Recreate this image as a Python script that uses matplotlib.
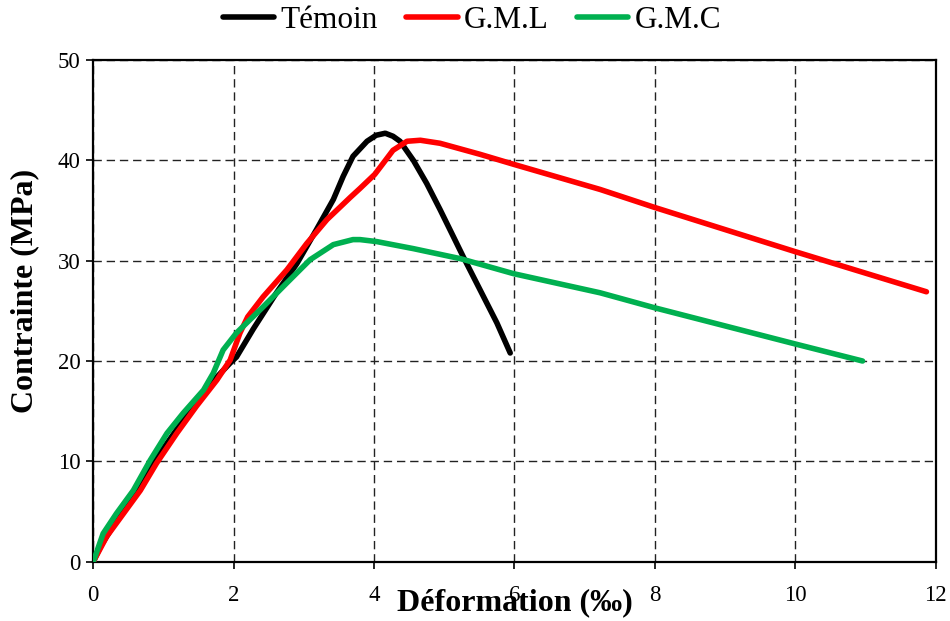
import matplotlib
matplotlib.use("Agg")
import matplotlib.pyplot as plt

# Stress-strain curves (strain in per mille, stress in MPa)
temoin_x = [0, 0.1, 0.43, 0.57, 0.9, 1.19, 1.47, 1.76, 1.95, 2.04, 2.28, 2.61, 2.9,
            3.18, 3.42, 3.56, 3.70, 3.90, 4.03, 4.16, 4.27, 4.37, 4.56, 4.75, 4.94,
            5.13, 5.27, 5.51, 5.75, 5.94]
temoin_y = [0, 1.5, 5.2, 6.5, 10.3, 13.2, 15.9, 18.4, 19.8, 20.4, 23.2, 26.8, 29.7,
            33.1, 36.1, 38.4, 40.4, 41.9, 42.5, 42.7, 42.4, 41.9, 40.0, 37.7, 35.1,
            32.4, 30.4, 27.1, 23.8, 20.8]

gml_x = [0, 0.19, 0.43, 0.67, 0.90, 1.19, 1.47, 1.76, 1.95, 2.09, 2.2, 2.42, 2.76,
         3.04, 3.33, 3.66, 3.80, 4.01, 4.13, 4.27, 4.47, 4.66, 4.94, 5.51, 5.99,
         7.22, 8.0, 10.0, 11.87]
gml_y = [0, 2.5, 4.8, 7.1, 9.8, 12.8, 15.5, 18.1, 20.1, 22.8, 24.4, 26.4, 29.1,
         31.7, 34.1, 36.3, 37.2, 38.6, 39.7, 41.0, 41.9, 42.0, 41.7, 40.6, 39.6,
         37.1, 35.3, 30.9, 26.9]

gmc_x = [0, 0.14, 0.33, 0.57, 0.81, 1.05, 1.28, 1.57, 1.71, 1.85, 2.04, 2.42, 2.76,
         3.09, 3.42, 3.70, 3.80, 4.04, 4.56, 5.23, 5.99, 7.22, 8.0, 10.0, 10.96]
gmc_y = [0, 2.8, 4.8, 7.1, 10.1, 12.8, 14.8, 17.1, 18.8, 21.1, 22.8, 25.4, 27.8,
         30.1, 31.6, 32.1, 32.1, 31.9, 31.2, 30.2, 28.7, 26.8, 25.3, 21.7, 20.0]

series_labels = ["Témoin", "G.M.L", "G.M.C"]
series_colors = ["#000000", "#FF0000", "#00B050"]

x_ticks = [0, 2, 4, 6, 8, 10, 12]
y_ticks = [0, 10, 20, 30, 40, 50]

plt.rcParams["font.family"] = ["Liberation Serif", "DejaVu Serif"]

fig = plt.figure(figsize=(9.5, 6.21), dpi=100)
ax = fig.add_axes([0.0982, 0.0955, 0.8866, 0.8079])

lines = []
for xs, ys, lab, col in zip([temoin_x, gml_x, gmc_x], [temoin_y, gml_y, gmc_y],
                            series_labels, series_colors):
    ln, = ax.plot(xs, ys, color=col, lw=4.0, label=lab,
                  solid_capstyle="round", solid_joinstyle="round", zorder=3)
    lines.append(ln)

ax.set_xlim(0, 12)
ax.set_ylim(0, 50)
ax.set_xticks(x_ticks)
ax.set_yticks(y_ticks)
ax.tick_params(axis="both", direction="out", length=5, width=1.2,
               labelsize=16.5, pad=4)
ax.tick_params(axis="x", pad=12)

ax.grid(True, color="#222222", lw=1.0, linestyle=(0, (6, 3.5)))
ax.set_axisbelow(True)
for sp in ax.spines.values():
    sp.set_linewidth(1.6)
    sp.set_color("black")

ax.set_xlabel("Déformation (‰)", fontsize=23, fontweight="bold")
ax.xaxis.set_label_coords(0.5, -0.082)
ax.xaxis.label.set_va("center")
ax.set_ylabel("Contrainte (MPa)", fontsize=23, fontweight="bold")
ax.yaxis.set_label_coords(-0.081, 0.54)
ax.yaxis.label.set_va("center")

fig.legend(handles=lines, loc="center", bbox_to_anchor=(472 / 950, 1 - 20 / 621),
           ncol=3, frameon=False, fontsize=22.5, handlelength=1.65,
           handletextpad=0.2, columnspacing=0.9, borderpad=0)

fig.savefig("out.png", dpi=100)
